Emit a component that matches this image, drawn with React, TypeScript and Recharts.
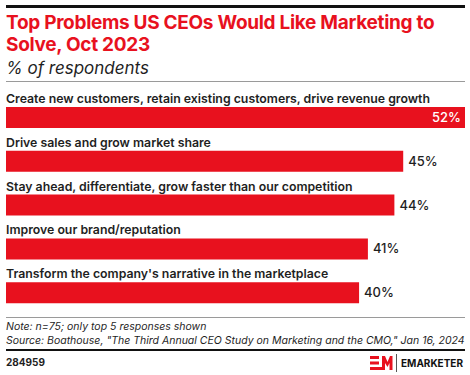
import React from "react";
import { BarChart, Bar, XAxis, YAxis, LabelList } from "recharts";

const categories = [
  "Create new customers, retain existing customers, drive revenue growth",
  "Drive sales and grow market share",
  "Stay ahead, differentiate, grow faster than our competition",
  "Improve our brand/reputation",
  "Transform the company's narrative in the marketplace",
];
const values = [52, 45, 44, 41, 40];

const data = categories.map((c, i) => ({ name: c, value: values[i] }));

const RED = "#E8111E";
const TEXT = "#1f1f1f";
const FONT = "Inter, 'Noto Sans', sans-serif";

const NameLabel = (props: any) => {
  const { x, y, value } = props;
  return (
    <text x={x} y={y - 4} fontSize={12.3} fontWeight={600} fill={TEXT} fontFamily={FONT}>
      {value}
    </text>
  );
};

const ValueLabel = (props: any) => {
  const { x, y, width, height, value } = props;
  const inside = x + width + 40 > 470;
  const cy = y + height / 2 + 4.5;
  if (inside) {
    return (
      <text x={x + width - 4} y={cy} fontSize={13} fontWeight={500} fill="#fff" textAnchor="end" fontFamily={FONT}>
        {value}%
      </text>
    );
  }
  return (
    <text x={x + width + 5} y={cy} fontSize={13} fontWeight={500} fill={TEXT} textAnchor="start" fontFamily={FONT}>
      {value}%
    </text>
  );
};

export default function App() {
  return (
    <div style={{ position: "absolute", left: 0, top: 0, width: 470, height: 375, background: "#fff", fontFamily: FONT, overflow: "hidden" }}>
      <div style={{ position: "absolute", left: 6, top: 5, width: 459, height: 3, background: "#111" }} />
      <div style={{ position: "absolute", left: 6, top: 12, width: 462, fontSize: 19, fontWeight: 700, color: RED, lineHeight: "22px", letterSpacing: -0.3 }}>
        Top Problems US CEOs Would Like Marketing to Solve, Oct 2023
      </div>
      <div style={{ position: "absolute", left: 6, top: 57, fontSize: 17, fontStyle: "italic", color: TEXT, lineHeight: "22px" }}>
        % of respondents
      </div>
      <div style={{ position: "absolute", left: 6, top: 81, width: 459, height: 1, background: "#9a9a9a" }} />

      <div style={{ position: "absolute", left: 0, top: 0 }}>
        <BarChart width={470} height={375} data={data} layout="vertical" margin={{ top: 96, bottom: 60, left: 6, right: 5 }} barCategoryGap={0}>
          <XAxis type="number" domain={[0, 52]} hide />
          <YAxis type="category" dataKey="name" hide />
          <Bar dataKey="value" fill={RED} barSize={21} isAnimationActive={false}>
            <LabelList dataKey="name" content={NameLabel} />
            <LabelList dataKey="value" content={ValueLabel} />
          </Bar>
        </BarChart>
      </div>

      <div style={{ position: "absolute", left: 6, top: 317, width: 459, height: 1, background: "#9a9a9a" }} />
      <div style={{ position: "absolute", left: 6, top: 320, fontSize: 10.5, fontStyle: "italic", color: TEXT, lineHeight: "13.5px", whiteSpace: "nowrap" }}>
        <div>Note: n=75; only top 5 responses shown</div>
        <div>Source: Boathouse, "The Third Annual CEO Study on Marketing and the CMO," Jan 16, 2024</div>
      </div>
      <div style={{ position: "absolute", left: 6, top: 349, width: 459, height: 2, background: "#111" }} />
      <div style={{ position: "absolute", left: 6, top: 356, fontSize: 10, fontWeight: 700, color: TEXT }}>284959</div>
      <svg style={{ position: "absolute", left: 368, top: 354 }} width={100} height={18}>
        <g fill={RED}>
          <rect x={2} y={2} width={9} height={3} />
          <rect x={2} y={7.5} width={9} height={3} />
          <rect x={2} y={13} width={9} height={3} />
          <path d="M11 16 L11 13 L14 13 L14 2 L17 2 L19.5 8 L22 2 L24.5 2 L24.5 16 L21.5 16 L21.5 9 L19.5 13 L17 9 L17 16 Z" />
        </g>
        <rect x={28} y={0} width={1} height={18} fill="#555" />
        <text x={33} y={13} fontSize={10.5} fontWeight={700} fill="#111" fontFamily={FONT} textLength={62} lengthAdjust="spacingAndGlyphs">
          EMARKETER
        </text>
      </svg>
    </div>
  );
}
